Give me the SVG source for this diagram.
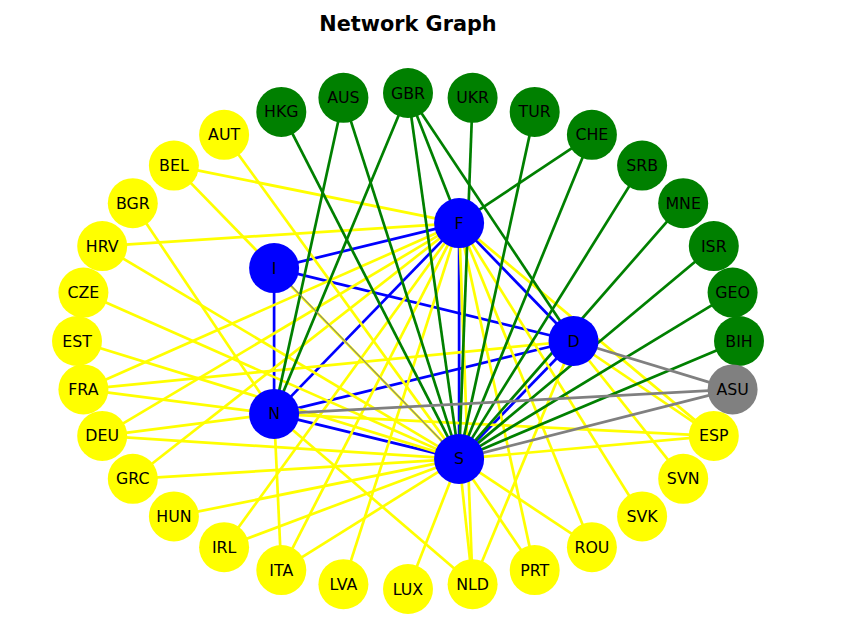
<svg xmlns="http://www.w3.org/2000/svg" width="856" height="635" viewBox="0 0 856 635">
<style>
.e{stroke-width:2.7;fill:none}
.eb{stroke:#0000ff}
.ey{stroke:#ffff00}
.eg{stroke:#008000}
.ea{stroke:#808080}
.ny{fill:#ffff00}
.ng{fill:#008000}
.nb{fill:#0000ff}
.na{fill:#808080}
text{font-family:"DejaVu Sans","Liberation Sans",sans-serif;font-size:15.8px;fill:#000;text-anchor:middle;dominant-baseline:central}
.title{font-size:20.8px;font-weight:bold;dominant-baseline:auto}
</style>
<rect width="856" height="635" fill="#fff"/>
<text class="title" x="408" y="31">Network Graph</text>
<g id="edges">
<g class="e eb">
<line x1="459.1" y1="223.1" x2="274.1" y2="268.1"/>
<line x1="459.1" y1="223.1" x2="274.1" y2="413.9"/>
<line x1="459.1" y1="223.1" x2="573.5" y2="341"/>
<line x1="459.1" y1="223.1" x2="459.1" y2="458.9"/>
<line x1="274.1" y1="268.1" x2="274.1" y2="413.9"/>
<line x1="274.1" y1="268.1" x2="573.5" y2="341"/>
<line x1="274.1" y1="413.9" x2="573.5" y2="341"/>
<line x1="274.1" y1="413.9" x2="459.1" y2="458.9"/>
<line x1="573.5" y1="341" x2="459.1" y2="458.9"/>
</g>
<g class="e ey">
<line x1="224.1" y1="134.8" x2="459.1" y2="458.9"/>
<line x1="173.9" y1="165.6" x2="459.1" y2="223.1"/>
<line x1="173.9" y1="165.6" x2="459.1" y2="458.9"/>
<line x1="132.8" y1="203.2" x2="274.1" y2="413.9"/>
<line x1="102.2" y1="246.1" x2="459.1" y2="223.1"/>
<line x1="102.2" y1="246.1" x2="459.1" y2="458.9"/>
<line x1="83.4" y1="292.6" x2="459.1" y2="458.9"/>
<line x1="77" y1="341" x2="459.1" y2="458.9"/>
<line x1="83.4" y1="389.4" x2="459.1" y2="223.1"/>
<line x1="83.4" y1="389.4" x2="274.1" y2="413.9"/>
<line x1="83.4" y1="389.4" x2="573.5" y2="341"/>
<line x1="102.2" y1="435.9" x2="459.1" y2="223.1"/>
<line x1="102.2" y1="435.9" x2="274.1" y2="413.9"/>
<line x1="102.2" y1="435.9" x2="459.1" y2="458.9"/>
<line x1="132.8" y1="478.8" x2="459.1" y2="223.1"/>
<line x1="132.8" y1="478.8" x2="459.1" y2="458.9"/>
<line x1="173.9" y1="516.4" x2="459.1" y2="458.9"/>
<line x1="224.1" y1="547.2" x2="459.1" y2="223.1"/>
<line x1="224.1" y1="547.2" x2="459.1" y2="458.9"/>
<line x1="281.3" y1="570.1" x2="274.1" y2="413.9"/>
<line x1="281.3" y1="570.1" x2="459.1" y2="223.1"/>
<line x1="281.3" y1="570.1" x2="459.1" y2="458.9"/>
<line x1="343.4" y1="584.2" x2="459.1" y2="223.1"/>
<line x1="408" y1="589" x2="459.1" y2="458.9"/>
<line x1="472.6" y1="584.2" x2="459.1" y2="458.9"/>
<line x1="472.6" y1="584.2" x2="459.1" y2="223.1"/>
<line x1="472.6" y1="584.2" x2="274.1" y2="413.9"/>
<line x1="472.6" y1="584.2" x2="573.5" y2="341"/>
<line x1="534.7" y1="570.1" x2="459.1" y2="223.1"/>
<line x1="534.7" y1="570.1" x2="459.1" y2="458.9"/>
<line x1="591.9" y1="547.2" x2="459.1" y2="223.1"/>
<line x1="591.9" y1="547.2" x2="459.1" y2="458.9"/>
<line x1="642.1" y1="516.4" x2="459.1" y2="223.1"/>
<line x1="683.2" y1="478.8" x2="573.5" y2="341"/>
<line x1="713.8" y1="435.9" x2="459.1" y2="223.1"/>
<line x1="713.8" y1="435.9" x2="274.1" y2="413.9"/>
<line x1="713.8" y1="435.9" x2="459.1" y2="458.9"/>
<line x1="713.8" y1="435.9" x2="573.5" y2="341"/>
</g>
<g class="e eg">
<line x1="281.3" y1="111.9" x2="459.1" y2="458.9"/>
<line x1="343.4" y1="97.8" x2="274.1" y2="413.9"/>
<line x1="343.4" y1="97.8" x2="459.1" y2="458.9"/>
<line x1="408" y1="93" x2="274.1" y2="413.9"/>
<line x1="408" y1="93" x2="459.1" y2="458.9"/>
<line x1="408" y1="93" x2="459.1" y2="223.1"/>
<line x1="408" y1="93" x2="573.5" y2="341"/>
<line x1="472.6" y1="97.8" x2="459.1" y2="458.9"/>
<line x1="534.7" y1="111.9" x2="459.1" y2="458.9"/>
<line x1="591.9" y1="134.8" x2="459.1" y2="223.1"/>
<line x1="591.9" y1="134.8" x2="459.1" y2="458.9"/>
<line x1="642.1" y1="165.6" x2="459.1" y2="458.9"/>
<line x1="683.2" y1="203.2" x2="459.1" y2="458.9"/>
<line x1="713.8" y1="246.1" x2="459.1" y2="458.9"/>
<line x1="732.6" y1="292.6" x2="459.1" y2="458.9"/>
<line x1="739" y1="341" x2="459.1" y2="458.9"/>
</g>
<g class="e ea">
<line x1="732.6" y1="389.4" x2="573.5" y2="341"/>
<line x1="732.6" y1="389.4" x2="274.1" y2="413.9"/>
<line x1="732.6" y1="389.4" x2="459.1" y2="458.9"/>
<line x1="274.1" y1="268.1" x2="459.1" y2="458.9" stroke-width="1.1"/>
</g>
</g>
<g id="node-BIH"><circle class="ng" cx="739" cy="341" r="25"/><text x="739" y="341">BIH</text></g>
<g id="node-GEO"><circle class="ng" cx="732.6" cy="292.6" r="25"/><text x="732.6" y="292.6">GEO</text></g>
<g id="node-ISR"><circle class="ng" cx="713.8" cy="246.1" r="25"/><text x="713.8" y="246.1">ISR</text></g>
<g id="node-MNE"><circle class="ng" cx="683.2" cy="203.2" r="25"/><text x="683.2" y="203.2">MNE</text></g>
<g id="node-SRB"><circle class="ng" cx="642.1" cy="165.6" r="25"/><text x="642.1" y="165.6">SRB</text></g>
<g id="node-CHE"><circle class="ng" cx="591.9" cy="134.8" r="25"/><text x="591.9" y="134.8">CHE</text></g>
<g id="node-TUR"><circle class="ng" cx="534.7" cy="111.9" r="25"/><text x="534.7" y="111.9">TUR</text></g>
<g id="node-UKR"><circle class="ng" cx="472.6" cy="97.8" r="25"/><text x="472.6" y="97.8">UKR</text></g>
<g id="node-GBR"><circle class="ng" cx="408" cy="93" r="25"/><text x="408" y="93">GBR</text></g>
<g id="node-AUS"><circle class="ng" cx="343.4" cy="97.8" r="25"/><text x="343.4" y="97.8">AUS</text></g>
<g id="node-HKG"><circle class="ng" cx="281.3" cy="111.9" r="25"/><text x="281.3" y="111.9">HKG</text></g>
<g id="node-AUT"><circle class="ny" cx="224.1" cy="134.8" r="25"/><text x="224.1" y="134.8">AUT</text></g>
<g id="node-BEL"><circle class="ny" cx="173.9" cy="165.6" r="25"/><text x="173.9" y="165.6">BEL</text></g>
<g id="node-BGR"><circle class="ny" cx="132.8" cy="203.2" r="25"/><text x="132.8" y="203.2">BGR</text></g>
<g id="node-HRV"><circle class="ny" cx="102.2" cy="246.1" r="25"/><text x="102.2" y="246.1">HRV</text></g>
<g id="node-CZE"><circle class="ny" cx="83.4" cy="292.6" r="25"/><text x="83.4" y="292.6">CZE</text></g>
<g id="node-EST"><circle class="ny" cx="77" cy="341" r="25"/><text x="77" y="341">EST</text></g>
<g id="node-FRA"><circle class="ny" cx="83.4" cy="389.4" r="25"/><text x="83.4" y="389.4">FRA</text></g>
<g id="node-DEU"><circle class="ny" cx="102.2" cy="435.9" r="25"/><text x="102.2" y="435.9">DEU</text></g>
<g id="node-GRC"><circle class="ny" cx="132.8" cy="478.8" r="25"/><text x="132.8" y="478.8">GRC</text></g>
<g id="node-HUN"><circle class="ny" cx="173.9" cy="516.4" r="25"/><text x="173.9" y="516.4">HUN</text></g>
<g id="node-IRL"><circle class="ny" cx="224.1" cy="547.2" r="25"/><text x="224.1" y="547.2">IRL</text></g>
<g id="node-ITA"><circle class="ny" cx="281.3" cy="570.1" r="25"/><text x="281.3" y="570.1">ITA</text></g>
<g id="node-LVA"><circle class="ny" cx="343.4" cy="584.2" r="25"/><text x="343.4" y="584.2">LVA</text></g>
<g id="node-LUX"><circle class="ny" cx="408" cy="589" r="25"/><text x="408" y="589">LUX</text></g>
<g id="node-NLD"><circle class="ny" cx="472.6" cy="584.2" r="25"/><text x="472.6" y="584.2">NLD</text></g>
<g id="node-PRT"><circle class="ny" cx="534.7" cy="570.1" r="25"/><text x="534.7" y="570.1">PRT</text></g>
<g id="node-ROU"><circle class="ny" cx="591.9" cy="547.2" r="25"/><text x="591.9" y="547.2">ROU</text></g>
<g id="node-SVK"><circle class="ny" cx="642.1" cy="516.4" r="25"/><text x="642.1" y="516.4">SVK</text></g>
<g id="node-SVN"><circle class="ny" cx="683.2" cy="478.8" r="25"/><text x="683.2" y="478.8">SVN</text></g>
<g id="node-ESP"><circle class="ny" cx="713.8" cy="435.9" r="25"/><text x="713.8" y="435.9">ESP</text></g>
<g id="node-ASU"><circle class="na" cx="732.6" cy="389.4" r="25"/><text x="732.6" y="389.4">ASU</text></g>
<g id="node-F"><circle class="nb" cx="459.1" cy="223.1" r="25"/><text x="459.1" y="223.1">F</text></g>
<g id="node-I"><circle class="nb" cx="274.1" cy="268.1" r="25"/><text x="274.1" y="268.1">I</text></g>
<g id="node-D"><circle class="nb" cx="573.5" cy="341" r="25"/><text x="573.5" y="341">D</text></g>
<g id="node-N"><circle class="nb" cx="274.1" cy="413.9" r="25"/><text x="274.1" y="413.9">N</text></g>
<g id="node-S"><circle class="nb" cx="459.1" cy="458.9" r="25"/><text x="459.1" y="458.9">S</text></g>
</svg>
